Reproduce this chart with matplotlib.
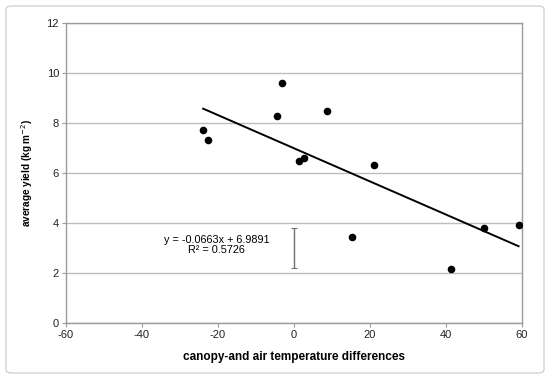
import numpy as np
import matplotlib.pyplot as plt
from matplotlib.patches import FancyBboxPatch

plt.rcParams['font.family'] = ['Liberation Sans', 'DejaVu Sans']
plt.rcParams['axes.unicode_minus'] = False

# canopy-air temperature difference vs average yield
temp_diff = [-23.9, -22.7, -4.4, -3.2, 1.4, 2.7, 8.8, 21.1, 15.3, 41.3, 50.1, 59.1]
avg_yield = [7.73, 7.33, 8.29, 9.61, 6.49, 6.60, 8.49, 6.33, 3.43, 2.15, 3.81, 3.93]

slope = -0.0663
intercept = 6.9891
r2 = 0.5726
fit_range = [-23.9, 59.1]

err_x = [0]
err_center = [3.0]
err_half = [0.8]

x_ticks = [-60, -40, -20, 0, 20, 40, 60]
y_ticks = [0, 2, 4, 6, 8, 10, 12]

fig = plt.figure(figsize=(5.5, 3.79), dpi=100)
ax = fig.add_axes([66 / 550, 56 / 379, 456 / 550, 300 / 379])

# outer frame
frame = FancyBboxPatch((6 / 550, 6 / 379), 538 / 550, 367 / 379,
                       boxstyle='round,pad=0,rounding_size=0.01',
                       transform=fig.transFigure, fill=False,
                       edgecolor='#c8c8c8', linewidth=0.8)
fig.patches.append(frame)

ax.set_xlim(-60, 60)
ax.set_ylim(0, 12)
ax.set_xticks(x_ticks)
ax.set_yticks(y_ticks)
ax.grid(axis='y', color='#bdbdbd', linewidth=1.0)
ax.set_axisbelow(True)
for s in ax.spines.values():
    s.set_color('#9a9a9a')
    s.set_linewidth(1.0)
ax.tick_params(length=3, width=0.8, color='#9a9a9a', labelsize=8,
               labelcolor='#222222', pad=2)

xs = np.array(fit_range)
ax.plot(xs, slope * xs + intercept, color='black', linewidth=1.4, zorder=3)
ax.scatter(temp_diff, avg_yield, s=20, color='black', zorder=4)
ax.errorbar(err_x, err_center, yerr=err_half, fmt='none', ecolor='#707070',
            elinewidth=1.0, capsize=2, capthick=0.8, zorder=3)

ax.text(-20.4, 3.33, 'y = -0.0663x + 6.9891', ha='center', va='center', fontsize=7.8)
ax.text(-20.4, 2.93, 'R² = 0.5726', ha='center', va='center', fontsize=7.8)

ax.set_xlabel('canopy-and air temperature differences', fontsize=8.5,
              fontweight='bold', labelpad=8)
ax.set_ylabel('average yield (kg m$^{-2}$)', fontsize=7.2, fontweight='bold',
              labelpad=8)

fig.savefig('out.png', dpi=100)
